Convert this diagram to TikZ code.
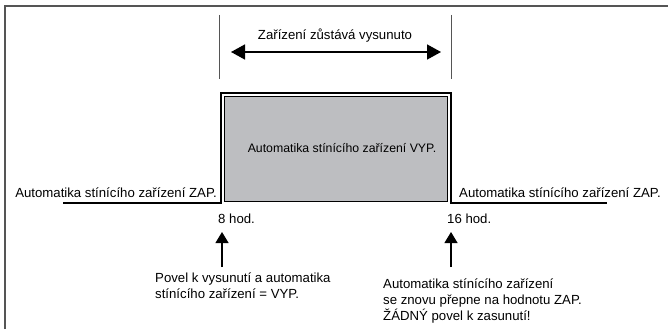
\documentclass[tikz,border=0pt]{standalone}
\usepackage{fontspec}
\setmainfont{Liberation Sans}
\usetikzlibrary{arrows.meta}
\definecolor{shadegray}{RGB}{189,190,193}
\definecolor{framegray}{RGB}{85,85,85}

\tikzset{
txt/.style={inner sep=0pt, font=\fontsize{13.2}{16}\selectfont},
boxtxt/.style={inner sep=0pt, font=\fontsize{12.3}{15}\selectfont},
signal/.style={line width=1.4pt},
mark line/.style={line width=0.9pt, draw=framegray},
bigarrow/.style={line width=1.5pt, {Triangle[length=14pt,width=15pt]}-{Triangle[length=14pt,width=15pt]}},
uparrow/.style={line width=1.2pt, -{Triangle[length=11pt,width=13pt]}},
}

\begin{document}
\begin{tikzpicture}[x=1pt, y=-1pt]
% 1 unit = 1 pixel of the 668x329 frame, y downwards
\useasboundingbox (0,0) rectangle (668,329);
\draw[framegray, line width=1.6pt] (5,329) -- (5,6) -- (668,6);
	\draw[mark line] (219,15) -- (219,79);
	\draw[mark line] (451,15) -- (451,79);
	\node[txt, anchor=base] (stays) at (335,40) {Zařízení zůstává vysunuto};
	\coordinate (stayl) at (231,52);
	\coordinate (stayr) at (441,52);
	\draw[bigarrow] (stayl) -- (stayr);
\draw[signal] (63,203) -- (221,203) -- (221,93) -- (451,93) -- (451,203) -- (607,203);
	\draw[fill=shadegray, line width=1pt] (224.5,96.5) rectangle (447.5,201);
	\node[boxtxt, anchor=base] (off) at (342,152) {Automatika stínícího zařízení VYP.};
	\node[txt, anchor=base east] (onl) at (217,197) {Automatika stínícího zařízení ZAP.};
	\node[txt, anchor=base west] (onr) at (459,197) {Automatika stínícího zařízení ZAP.};
	\node[txt, anchor=base west] (eight) at (218,223) {8 hod.};
	\node[txt, anchor=base west] (sixteen) at (447,223) {16 hod.};
	\coordinate (eightup) at (222,267);
	\coordinate (eighttip) at (222,232);
	\coordinate (sixteenup) at (451,267);
	\coordinate (sixteentip) at (451,232);
	\draw[uparrow] (eightup) -- (eighttip);
	\draw[uparrow] (sixteenup) -- (sixteentip);
	\node[txt, anchor=base west, align=left] (extend) at (155,298)
		{Povel k vysunutí a automatika\\stínícího zařízení = VYP.};
	\node[txt, anchor=base west, align=left] (back) at (383,320)
		{Automatika stínícího zařízení\\se znovu přepne na hodnotu ZAP.\\ŽÁDNÝ povel k zasunutí!};
\end{tikzpicture}
\end{document}
